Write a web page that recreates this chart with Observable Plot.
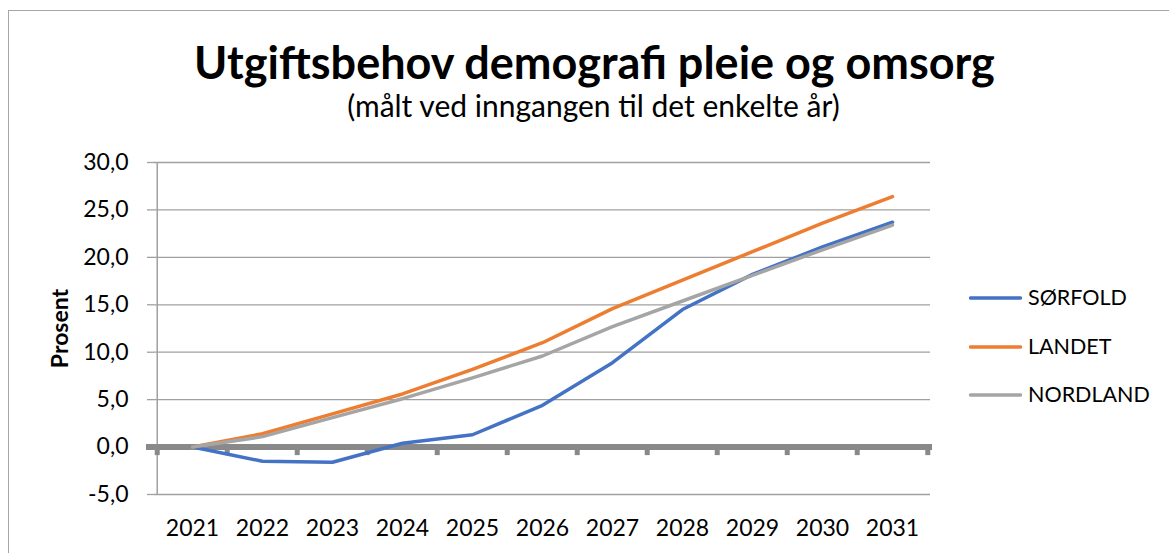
<!DOCTYPE html>
<html>
<head>
<meta charset="utf-8">
<script src="https://cdn.jsdelivr.net/npm/d3@7"></script>
<script src="https://cdn.jsdelivr.net/npm/@observablehq/plot@0.6"></script>
<style>
  html, body { margin: 0; padding: 0; background: #fff; }
  #chart { position: relative; width: 1169px; height: 553px; overflow: hidden; font-family: Lato, "Open Sans", sans-serif; color: #000; }
  #frame { position: absolute; left: 8px; top: 10px; width: 1300px; height: 700px; border-left: 1.5px solid #a6a6a6; border-top: 1.5px solid #a6a6a6; }
  #header { position: relative; height: 130px; }
  #title { position: absolute; left: 10px; width: 1169px; top: 40px; text-align: center; font-size: 45px; font-weight: 700; line-height: 1; white-space: nowrap; }
  #subtitle { position: absolute; left: 9px; width: 1169px; top: 90px; text-align: center; font-size: 30px; font-weight: 400; line-height: 1; white-space: nowrap; }
  #legend { position: absolute; left: 969px; top: 0; }
  .item { position: absolute; left: 0; display: flex; align-items: center; font-size: 21.5px; line-height: 1.2; white-space: nowrap; }
  .item svg { margin-right: 6px; }
  #plot { position: relative; }
</style>
</head>
<body>
<div id="chart">
  <div id="frame"></div>
  <div id="header">
    <div id="title"></div>
    <div id="subtitle"></div>
  </div>
  <div id="plot"></div>
  <div id="legend"></div>
</div>
<script>
const titleText = "Utgiftsbehov demografi pleie og omsorg";
const subtitleText = "(målt ved inngangen til det enkelte år)";
const yLabel = "Prosent";

const years = [2021, 2022, 2023, 2024, 2025, 2026, 2027, 2028, 2029, 2030, 2031];
const seriesNames = ["SØRFOLD", "LANDET", "NORDLAND"];
const seriesColors = ["#4472C4", "#ED7D31", "#A5A5A5"];
const sorfold  = [0, -1.5, -1.6, 0.4, 1.3, 4.4, 8.9, 14.5, 18.2, 21.1, 23.7];
const landet   = [0, 1.4, 3.5, 5.6, 8.2, 11.0, 14.6, 17.6, 20.6, 23.6, 26.4];
const nordland = [0, 1.1, 3.1, 5.1, 7.3, 9.6, 12.7, 15.4, 18.1, 20.8, 23.4];
const yTicks = [-5, 0, 5, 10, 15, 20, 25, 30];

document.getElementById("title").textContent = titleText;
document.getElementById("subtitle").textContent = subtitleText;

const seriesValues = [sorfold, landet, nordland];
const table = seriesNames.flatMap((name, i) =>
  years.map((year, j) => ({series: name, year, value: seriesValues[i][j]}))
);

const width = 1169, height = 423;
const marginLeft = 154, marginRight = 239, marginTop = 32, marginBottom = 59;
const step = (width - marginLeft - marginRight) / years.length;
const fmt = d => d.toFixed(1).replace(".", ",");
const axisGray = "#a0a0a0";
const zeroGray = "#898989";

const plot = Plot.plot({
  width, height, marginLeft, marginRight, marginTop, marginBottom,
  style: {fontFamily: "Lato, 'Open Sans', sans-serif", color: "#000", background: "transparent"},
  x: {type: "point", domain: years, padding: 0.5},
  y: {domain: [-5, 30]},
  marks: [
    Plot.gridY(yTicks, {stroke: axisGray, strokeOpacity: 1, strokeWidth: 1.3}),
    Plot.axisY(yTicks, {tickSize: 7, tickPadding: 19, tickFormat: fmt, fontSize: 23, stroke: axisGray, strokeWidth: 1.3, label: null}),
    Plot.ruleX([years[0]], {x: d => d, y1: -5, y2: 30, dx: -step / 2, stroke: axisGray, strokeWidth: 1.5}),
    Plot.ruleY([0], {stroke: zeroGray, strokeWidth: 6, insetLeft: -8, insetRight: -2}),
    Plot.ruleX(years, {x: d => d, y1: 0, y2: -0.9, dx: -step / 2, stroke: zeroGray, strokeWidth: 5}),
    Plot.ruleX([years[years.length - 1]], {x: d => d, y1: 0, y2: -0.9, dx: step / 2, stroke: zeroGray, strokeWidth: 5}),
    Plot.axisX({tickSize: 0, tickPadding: 25, fontSize: 23, label: null, tickFormat: d => String(d)}),
    Plot.text([yLabel], {frameAnchor: "left", textAnchor: "middle", lineAnchor: "middle", rotate: -90, dx: -94, fontWeight: "bold", fontSize: 23}),
    ...seriesNames.map((name, i) =>
      Plot.line(table.filter(d => d.series === name), {
        x: "year", y: "value", stroke: seriesColors[i], strokeWidth: 3.5,
        strokeLinecap: "round", strokeLinejoin: "round"
      })
    )
  ]
});
document.getElementById("plot").appendChild(plot);

const legend = document.getElementById("legend");
const legendY = [298, 346.5, 395];
seriesNames.forEach((name, i) => {
  const item = document.createElement("div");
  item.className = "item";
  item.style.top = (legendY[i] - 13) + "px";
  item.style.height = "26px";
  item.innerHTML = `<svg width="53" height="6"><line x1="1.5" x2="51.5" y1="3" y2="3" stroke="${seriesColors[i]}" stroke-width="3.5" stroke-linecap="round"/></svg><span></span>`;
  item.querySelector("span").textContent = name;
  legend.appendChild(item);
});
</script>
</body>
</html>
